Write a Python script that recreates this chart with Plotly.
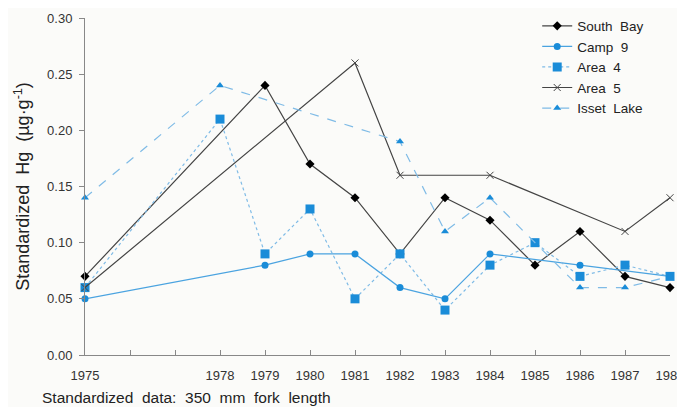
import plotly.graph_objects as go

years_all = list(range(1975, 1989))
tick_text = ["1975", "", "", "1978", "1979", "1980", "1981", "1982", "1983",
             "1984", "1985", "1986", "1987", "1988"]

south_bay_x = [1975, 1979, 1980, 1981, 1982, 1983, 1984, 1985, 1986, 1987, 1988]
south_bay_y = [0.07, 0.24, 0.17, 0.14, 0.09, 0.14, 0.12, 0.08, 0.11, 0.07, 0.06]

camp9_x = [1975, 1979, 1980, 1981, 1982, 1983, 1984, 1986, 1988]
camp9_y = [0.05, 0.08, 0.09, 0.09, 0.06, 0.05, 0.09, 0.08, 0.07]

area4_x = [1975, 1978, 1979, 1980, 1981, 1982, 1983, 1984, 1985, 1986, 1987, 1988]
area4_y = [0.06, 0.21, 0.09, 0.13, 0.05, 0.09, 0.04, 0.08, 0.10, 0.07, 0.08, 0.07]

area5_x = [1975, 1981, 1982, 1984, 1987, 1988]
area5_y = [0.06, 0.26, 0.16, 0.16, 0.11, 0.14]

isset_x = [1975, 1978, 1982, 1983, 1984, 1986, 1987, 1988]
isset_y = [0.14, 0.24, 0.19, 0.11, 0.14, 0.06, 0.06, 0.07]

BLUE = "#1a8cd8"
GREY = "#444444"

fig = go.Figure()
fig.add_trace(go.Scatter(x=south_bay_x, y=south_bay_y, name="South  Bay",
                         mode="lines+markers",
                         line=dict(color=GREY, width=1.2),
                         marker=dict(symbol="diamond", size=7, color="black"),
                         cliponaxis=False))
fig.add_trace(go.Scatter(x=camp9_x, y=camp9_y, name="Camp  9",
                         mode="lines+markers",
                         line=dict(color="#4aa3e0", width=1.2),
                         marker=dict(symbol="circle", size=7, color=BLUE),
                         cliponaxis=False))
fig.add_trace(go.Scatter(x=area4_x, y=area4_y, name="Area  4",
                         mode="lines+markers",
                         line=dict(color="#7fbbe6", width=1.2, dash="dot"),
                         marker=dict(symbol="square", size=9, color=BLUE),
                         cliponaxis=False))
fig.add_trace(go.Scatter(x=area5_x, y=area5_y, name="Area  5",
                         mode="lines+markers",
                         line=dict(color=GREY, width=1.2),
                         marker=dict(symbol="x-thin", size=7,
                                     line=dict(color=GREY, width=1)),
                         cliponaxis=False))
fig.add_trace(go.Scatter(x=isset_x, y=isset_y, name="Isset  Lake",
                         mode="lines+markers",
                         line=dict(color="#7fbbe6", width=1.2, dash="dash"),
                         marker=dict(symbol="triangle-up", size=7, color=BLUE),
                         cliponaxis=False))

fig.update_layout(
    width=677, height=399,
    margin=dict(l=77, r=15, t=10, b=52, autoexpand=False),
    paper_bgcolor="#fbfbf9", plot_bgcolor="#fbfbf9",
    font=dict(family="Liberation Sans, Arial, sans-serif", color="#333333"),
    showlegend=True,
    legend=dict(x=0.773, y=1.022, xanchor="left", yanchor="top",
                bgcolor="rgba(0,0,0,0)", font=dict(size=13.5, color="#222222"),
                tracegroupgap=0, itemwidth=30),
    xaxis=dict(range=[1975, 1988], tickmode="array", tickvals=years_all,
               ticktext=tick_text, ticks="inside", ticklen=5, tickcolor="#888888",
               showline=True, linecolor="#888888", linewidth=1,
               showgrid=False, zeroline=False, automargin=False,
               ticklabelstandoff=8,
               tickfont=dict(size=13, color="#333333")),
    yaxis=dict(range=[0, 0.30], tickvals=[0, 0.05, 0.10, 0.15, 0.20, 0.25, 0.30],
               tickformat=".2f", ticks="outside", ticklen=5, tickcolor="#888888",
               showline=True, linecolor="#888888", linewidth=1,
               showgrid=False, zeroline=False, automargin=False,
               ticklabelstandoff=4,
               tickfont=dict(size=13, color="#333333"),
               title=dict(text="Standardized  Hg  (µg·g<sup>-1</sup>)",
                          font=dict(size=18, color="#222222"), standoff=12)),
)
fig.add_annotation(text="Standardized  data:  350  mm  fork  length",
                   xref="paper", yref="paper", x=-0.077, y=-0.125,
                   xanchor="left", yanchor="middle", showarrow=False,
                   font=dict(size=15.5, color="#222222"))

fig.write_html("out.html")
